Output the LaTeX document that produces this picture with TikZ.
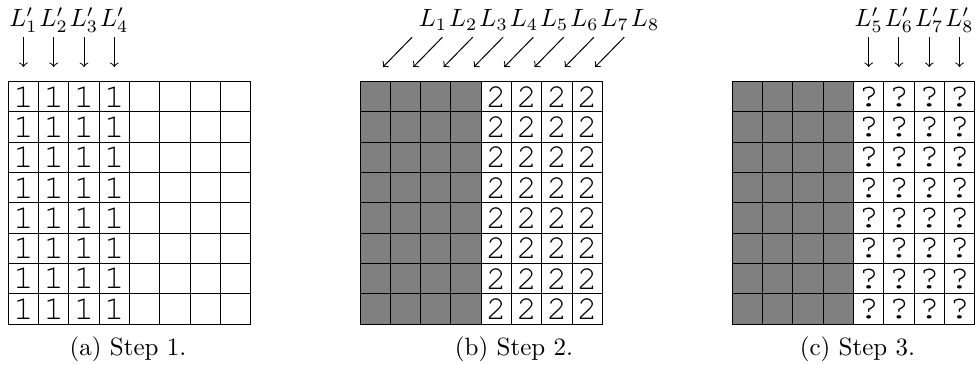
\documentclass[tikz,border=0pt]{standalone}
\usepackage{fontspec}
\newfontfamily\cellfont{texgyrecursor-regular.otf}
\begin{document}
\begin{tikzpicture}[x=0.4pt,y=-0.4pt,
  cell/.style={draw, minimum size=12.12pt, inner sep=0pt, outer sep=0pt, font=\cellfont\fontsize{13.5}{15}\selectfont},
  dark/.style={cell, fill=gray},
  lab/.style={anchor=base, inner sep=2.5pt},
  labp/.style={anchor=base, inner sep=1.5pt},
  arr/.style={->},
  capt/.style={anchor=base, inner sep=0pt}]
\useasboundingbox (0,0) rectangle (975,365);

% ---- grid (a)
\foreach \r in {0,...,7}{
  \foreach \c in {0,...,7}{
    \pgfmathsetmacro\xx{8.3+15.15+30.3*\c}
    \pgfmathsetmacro\yy{81.7+15.15+30.3*\r}
    \ifnum\c<4
      \node[cell] (a-\r-\c) at (\xx,\yy) {1};
    \else
      \node[cell] (a-\r-\c) at (\xx,\yy) {};
    \fi
  }}
\foreach \i in {1,...,4}{
  \pgfmathsetmacro\xx{8.3+15.15+30.3*(\i-1)}
  \node[labp] (la\i) at (\xx,26.7) {$L'_{\i}$};
  \coordinate (ta\i) at (\xx,67);
  \draw[arr] (la\i) -- (ta\i);
}
\node[capt] (capa) at (128,356) {(a) Step 1.};

% ---- grid (b)
\foreach \r in {0,...,7}{
  \foreach \c in {0,...,7}{
    \pgfmathsetmacro\xx{360+15.15+30.3*\c}
    \pgfmathsetmacro\yy{81.7+15.15+30.3*\r}
    \ifnum\c<4
      \node[dark] (b-\r-\c) at (\xx,\yy) {};
    \else
      \node[cell] (b-\r-\c) at (\xx,\yy) {2};
    \fi
  }}
\foreach \i in {1,...,8}{
  \pgfmathsetmacro\xx{433+30.3*(\i-1)}
  \pgfmathsetmacro\tx{383+30.3*(\i-1)}
  \node[lab] (lb\i) at (\xx,26.7) {$L_{\i}$};
  \coordinate (tb\i) at (\tx,67);
  \draw[arr] (lb\i.south west) -- (tb\i);
}
\node[capt] (capb) at (514,356) {(b) Step 2.};

% ---- grid (c)
\foreach \r in {0,...,7}{
  \foreach \c in {0,...,7}{
    \pgfmathsetmacro\xx{732.3+15.15+30.3*\c}
    \pgfmathsetmacro\yy{81.7+15.15+30.3*\r}
    \ifnum\c<4
      \node[dark] (c-\r-\c) at (\xx,\yy) {};
    \else
      \node[cell] (c-\r-\c) at (\xx,\yy) {?};
    \fi
  }}
\foreach \i in {5,...,8}{
  \pgfmathsetmacro\xx{732.3+15.15+30.3*(\i-1)}
  \node[labp] (lc\i) at (\xx,26.7) {$L'_{\i}$};
  \coordinate (tc\i) at (\xx,67);
  \draw[arr] (lc\i) -- (tc\i);
}
\node[capt] (capc) at (857.5,356) {(c) Step 3.};
\end{tikzpicture}
\end{document}
